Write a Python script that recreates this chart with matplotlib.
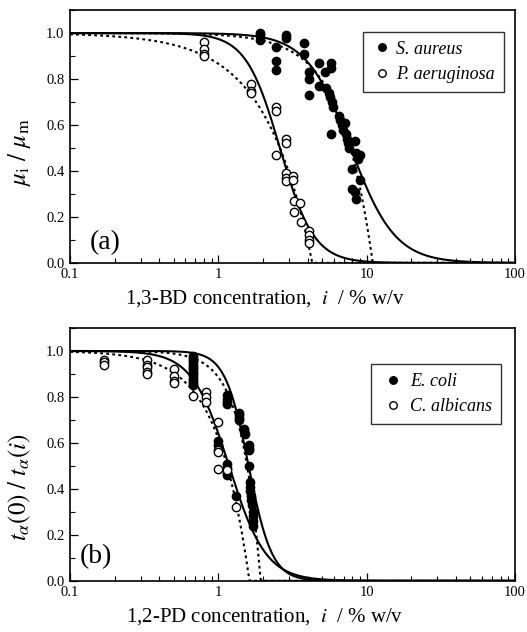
import numpy as np
import matplotlib
matplotlib.use("Agg")
import matplotlib.pyplot as plt
from matplotlib.ticker import LogLocator, MultipleLocator, FixedFormatter, FixedLocator

# ── Panel (a): 1,3-BD ─────────────────────────────────────────────────────
sa_x = [1.9, 1.9, 1.9, 2.43, 2.43, 2.43, 2.85, 2.85, 3.81, 3.81, 4.08, 4.08, 4.08,
        4.76, 4.76, 5.28, 5.71, 5.71, 5.3, 5.6, 5.7, 5.8, 5.9, 5.71,
        6.5, 6.6, 6.8, 6.9, 7.2, 7.3, 7.4, 7.5, 7.6, 8.3, 8.5, 8.8, 8.8,
        7.99, 8.0, 8.3, 8.5, 8.98, 9.0]
sa_y = [1.0, 0.99, 0.97, 0.94, 0.88, 0.84, 0.99, 0.98, 0.955, 0.91, 0.83, 0.80, 0.73,
        0.87, 0.77, 0.83, 0.87, 0.85, 0.76, 0.74, 0.72, 0.70, 0.68, 0.56,
        0.64, 0.62, 0.60, 0.58, 0.61, 0.56, 0.54, 0.52, 0.50, 0.53, 0.48, 0.47, 0.45,
        0.41, 0.32, 0.31, 0.28, 0.36, 0.47]

pa_x = [0.8, 0.8, 0.8, 0.8, 1.65, 1.65, 1.65, 2.43, 2.43, 2.85, 2.85, 2.43,
        2.85, 2.85, 2.85, 3.2, 3.2, 3.23, 3.23, 3.58, 3.6, 4.08, 4.08, 4.08, 4.08]
pa_y = [0.96, 0.93, 0.91, 0.90, 0.78, 0.75, 0.74, 0.68, 0.66, 0.54, 0.52, 0.47,
        0.39, 0.37, 0.355, 0.38, 0.36, 0.27, 0.22, 0.26, 0.18, 0.14, 0.12, 0.10, 0.086]

# fitted model parameters: solid = 1/(1+(c/c50)^n), dotted = 1-(c/cmax)^n
sa_hill = (7.8, 2.9)
sa_luong = (11.0, 2.0)
pa_hill = (2.6, 3.8)
pa_luong = (4.3, 1.38)

# ── Panel (b): 1,2-PD ─────────────────────────────────────────────────────
ec_x = [0.675] * 14 + [1.0, 1.0, 1.15, 1.15, 1.15, 1.15, 1.31, 1.15, 1.15, 1.15, 1.15,
                      1.38, 1.38, 1.38, 1.38, 1.5, 1.5, 1.52, 1.6, 1.6, 1.6, 1.6,
                      1.64, 1.64, 1.64, 1.65, 1.66, 1.68, 1.70, 1.70, 1.72, 1.70]
ec_y = [0.98, 0.97, 0.96, 0.95, 0.94, 0.93, 0.92, 0.91, 0.90, 0.89, 0.88, 0.87, 0.86, 0.85,
        0.61, 0.59, 0.51, 0.49, 0.47, 0.46, 0.37, 0.81, 0.79, 0.78, 0.77,
        0.73, 0.72, 0.71, 0.70, 0.66, 0.65, 0.64, 0.59, 0.58, 0.57, 0.50,
        0.43, 0.41, 0.39, 0.37, 0.35, 0.33, 0.30, 0.28, 0.26, 0.24]

ca_x = [0.17, 0.17, 0.17, 0.33, 0.33, 0.33, 0.33, 0.33, 0.5, 0.5, 0.5, 0.5, 0.67,
        0.82, 0.82, 0.82, 1.0, 1.0, 1.0, 1.0, 1.15, 1.32]
ca_y = [0.96, 0.95, 0.94, 0.96, 0.94, 0.93, 0.91, 0.90, 0.92, 0.89, 0.87, 0.86, 0.805,
        0.82, 0.80, 0.78, 0.69, 0.57, 0.56, 0.485, 0.48, 0.32]

ec_hill = (1.6, 5.5)
ec_luong = (1.93, 3.3)
ca_hill = (1.18, 3.5)
ca_luong = (1.62, 2.0)

plt.rcParams["font.family"] = ["Liberation Serif", "DejaVu Serif"]
plt.rcParams["mathtext.fontset"] = "stix"
plt.rcParams["xtick.direction"] = "in"
plt.rcParams["ytick.direction"] = "in"

c = np.logspace(-1, 2, 600)


def hill(p):
    return 1.0 / (1.0 + (c / p[0]) ** p[1])


def luong(p):
    return np.clip(1.0 - (c / p[0]) ** p[1], 0, None)


def style_axes(ax, xlabel, ylabel, ylab_y, tag, tag_xy):
    ax.set_xscale("log")
    ax.set_xlim(0.1, 100)
    ax.set_ylim(0, 1.1)
    ax.xaxis.set_major_locator(FixedLocator([0.1, 1, 10, 100]))
    ax.xaxis.set_major_formatter(FixedFormatter(["0.1", "1", "10", "100"]))
    ax.xaxis.set_minor_locator(LogLocator(base=10, subs=np.arange(2, 10)))
    ax.xaxis.set_minor_formatter(plt.NullFormatter())
    ax.yaxis.set_major_locator(FixedLocator([0, 0.2, 0.4, 0.6, 0.8, 1.0]))
    ax.yaxis.set_major_formatter(FixedFormatter(["0.0", "0.2", "0.4", "0.6", "0.8", "1.0"]))
    ax.yaxis.set_minor_locator(MultipleLocator(0.1))
    ax.tick_params(which="major", length=6, width=0.9, labelsize=10.5, pad=4)
    ax.tick_params(which="minor", length=3.5, width=0.8)
    for s in ax.spines.values():
        s.set_linewidth(1.2)
    ax.set_xlabel(xlabel, fontsize=15)
    ax.xaxis.set_label_coords(0.438, -0.1)
    ax.set_ylabel(ylabel, fontsize=18)
    ax.yaxis.set_label_coords(-0.083, ylab_y)
    ax.text(tag_xy[0], tag_xy[1], tag, transform=ax.transAxes, fontsize=20, ha="left", va="bottom")


fig = plt.figure(figsize=(5.27, 6.32), dpi=100)
ax1 = fig.add_axes([0.133, 0.584, 0.844, 0.400])
ax2 = fig.add_axes([0.133, 0.081, 0.844, 0.400])

mk = dict(linestyle="none", marker="o", markersize=6, markeredgecolor="black", markeredgewidth=1.0)
dot = (0, (1.3, 1.6))

# panel (a)
ax1.plot(c, hill(sa_hill), color="black", lw=1.5)
ax1.plot(c, luong(sa_luong), color="black", lw=1.5, linestyle=dot)
ax1.plot(c, hill(pa_hill), color="black", lw=1.5)
ax1.plot(c, luong(pa_luong), color="black", lw=1.5, linestyle=dot)
ax1.plot(sa_x, sa_y, markerfacecolor="black", label="S. aureus", **mk)
ax1.plot(pa_x, pa_y, markerfacecolor="white", label="P. aeruginosa", **mk)
style_axes(ax1, r"1,3-BD concentration,  $i$  / % w/v",
           r"$\mu_\mathrm{i}\ /\ \mu_\mathrm{m}$", 0.44, "(a)", (0.045, 0.03))

# panel (b)
ax2.plot(c, hill(ec_hill), color="black", lw=1.5)
ax2.plot(c, luong(ec_luong), color="black", lw=1.5, linestyle=dot)
ax2.plot(c, hill(ca_hill), color="black", lw=1.5)
ax2.plot(c, luong(ca_luong), color="black", lw=1.5, linestyle=dot)
ax2.plot(ec_x, ec_y, markerfacecolor="black", label="E. coli", **mk)
ax2.plot(ca_x, ca_y, markerfacecolor="white", label="C. albicans", **mk)
style_axes(ax2, r"1,2-PD concentration,  $i$  / % w/v",
           r"$t_\alpha(0)\ /\ t_\alpha(i)$", 0.37, "(b)", (0.022, 0.045))

for ax, anchor, hlen, tpad in ((ax1, (0.995, 0.95), 1.0, 0.3), (ax2, (0.99, 0.894), 1.5, 0.2)):
    leg = ax.legend(loc="upper right", bbox_to_anchor=anchor, frameon=True, fancybox=False,
                    prop={"style": "italic", "size": 13}, handletextpad=tpad,
                    borderpad=0.5, labelspacing=0.45, handlelength=hlen, markerscale=0.9)
    leg.get_frame().set_edgecolor("black")
    leg.get_frame().set_linewidth(1.0)

fig.savefig("out.png", dpi=100)
